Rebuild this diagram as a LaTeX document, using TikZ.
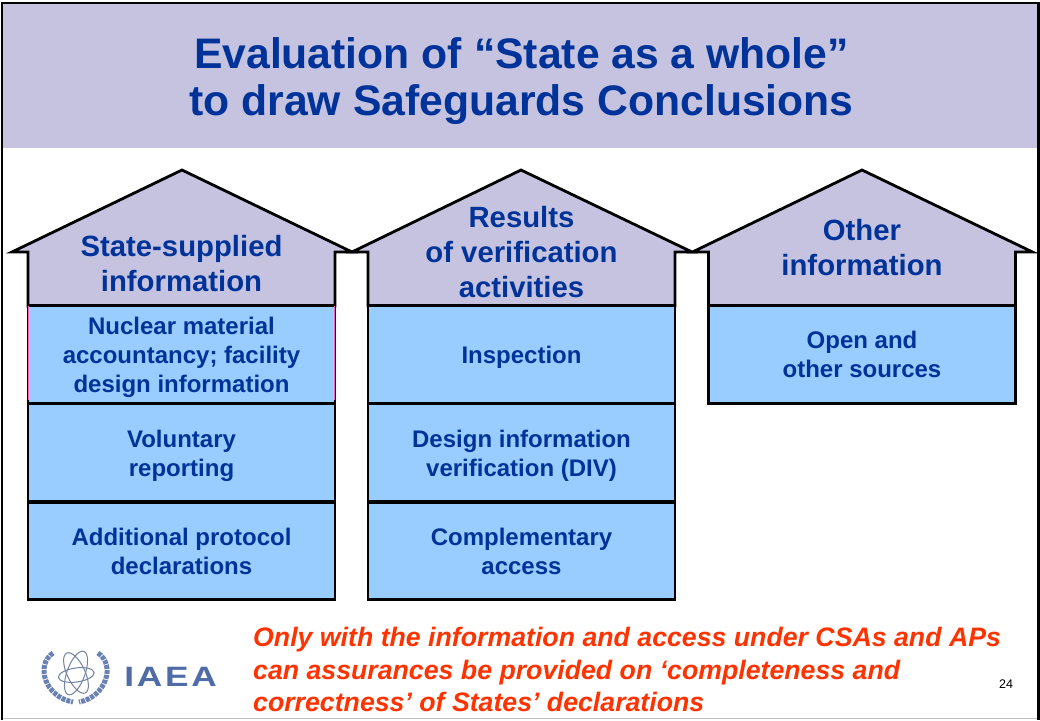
\documentclass[tikz,border=0pt]{standalone}
\usepackage{fontspec}
\setmainfont{Liberation Sans}
\definecolor{headlilac}{HTML}{C6C3E0}
\definecolor{boxblue}{HTML}{99CCFF}
\definecolor{textblue}{HTML}{003399}
\definecolor{noteorange}{HTML}{FF3300}
\definecolor{logoblue}{HTML}{4F6CA8}
\newcommand{\lowerline}{\rule{0pt}{23.8pt}}
\begin{document}
\begin{tikzpicture}[x=1pt,y=-1pt]
\tikzset{
  housebox/.style={draw=black, line width=2.8pt, fill=boxblue, text=textblue, font=\bfseries\fontsize{24}{29}\selectfont, align=center, minimum width=307pt, minimum height=97.5pt, inner sep=0pt},
  houseroof/.style={draw=black, line width=2.8pt, fill=headlilac, miter limit=6},
  houselabel/.style={text=textblue, font=\bfseries\fontsize{29.3}{35}\selectfont, align=center, inner sep=0pt}
}
\useasboundingbox (0,0) rectangle (1040,720);
\fill[white] (0,0) rectangle (1040,720);

% header
\fill[headlilac] (2,3) rectangle (1038,148);
\draw[black!25, line width=1pt] (2,718.5) -- (1038,718.5);
\draw[black, line width=2.4pt] (2,720) -- (2,3) -- (1038.3,3) -- (1038.3,720);
\node[text=textblue, font=\bfseries\fontsize{42.7}{46.5}\selectfont, align=center, inner sep=0pt] (title) at (521.5,81) {Evaluation of “State as a whole”\\to draw Safeguards Conclusions};

% first house
\draw[houseroof] (12,252) -- (182,170) -- (352,252) -- (335,252) -- (335,306) -- (28,306) -- (28,252) -- cycle;
\node[houselabel] (stateinfo) at (181.5,263.5) {State-supplied\\information};
\node[housebox] (nuclear) at (181.5,354.5) {\lowerline Nuclear material\\accountancy; facility\\design information};
\node[housebox] (voluntary) at (181.5,452.5) {\lowerline Voluntary\\reporting};
\node[housebox] (protocol) at (181.5,551) {Additional protocol\\declarations};
\draw[magenta!60, line width=0.8pt] (nuclear.north west)++(2,1.5) -- ++(0,94.5);
\draw[magenta!60, line width=0.8pt] (nuclear.north east)++(-2,1.5) -- ++(0,94.5);

% second house
\begin{scope}[xshift=340pt]
\draw[houseroof] (12,252) -- (181,170) -- (352,252) -- (335,252) -- (335,306) -- (28,306) -- (28,252) -- cycle;
\node[houselabel] (results) at (181.5,252) {Results\\of verification\\activities};
\node[housebox] (inspection) at (181.5,354.5) {\lowerline Inspection};
\node[housebox] (div) at (181.5,452.5) {\lowerline Design information\\verification (DIV)};
\node[housebox] (access) at (181.5,551) {Complementary\\access};
\end{scope}

% third house
\begin{scope}[xshift=680.5pt]
\draw[houseroof] (12,252) -- (181.5,170) -- (352,252) -- (335,252) -- (335,306) -- (28,306) -- (28,252) -- cycle;
\node[houselabel] (otherinfo) at (181.5,248) {Other\\information};
\node[housebox] (opensrc) at (181.5,354.5) {Open and\\other sources};
\end{scope}

% logo
\begin{scope}[shift={(76,673)}]
\draw[black!30!logoblue!70, line width=1pt, rotate=8] (0,2) ellipse (18 and 7);
\draw[black!30!logoblue!70, line width=1pt, rotate=70] (0,0) ellipse (23 and 9);
\draw[black!30!logoblue!70, line width=1pt, rotate=115] (0,0) ellipse (22 and 9);
\draw[logoblue!85, line width=5pt, dash pattern=on 4pt off 1pt] (-23,-20) .. controls (-41,-8) and (-31,24) .. (-3,29);
\draw[logoblue!85, line width=5pt, dash pattern=on 4pt off 1pt] (22,-20) .. controls (40,-8) and (30,24) .. (3,29);
\end{scope}
\node[text=logoblue, font=\bfseries\fontsize{28}{28}\addfontfeature{LetterSpace=8}\selectfont, xscale=1.26, anchor=west, inner sep=0pt] (iaea) at (124,677) {IAEA};

% note and page number
\node[text=noteorange, font=\bfseries\itshape\fontsize{26.7}{32.7}\selectfont, align=left, anchor=north west, inner sep=0pt] (note) at (253,627) {Only with the information and access under CSAs and APs\\can assurances be provided on ‘completeness and\\correctness’ of States’ declarations};
\node[font=\fontsize{12.5}{14}\selectfont, inner sep=0pt] (pagenum) at (1006,684) {24};
\end{tikzpicture}
\end{document}
